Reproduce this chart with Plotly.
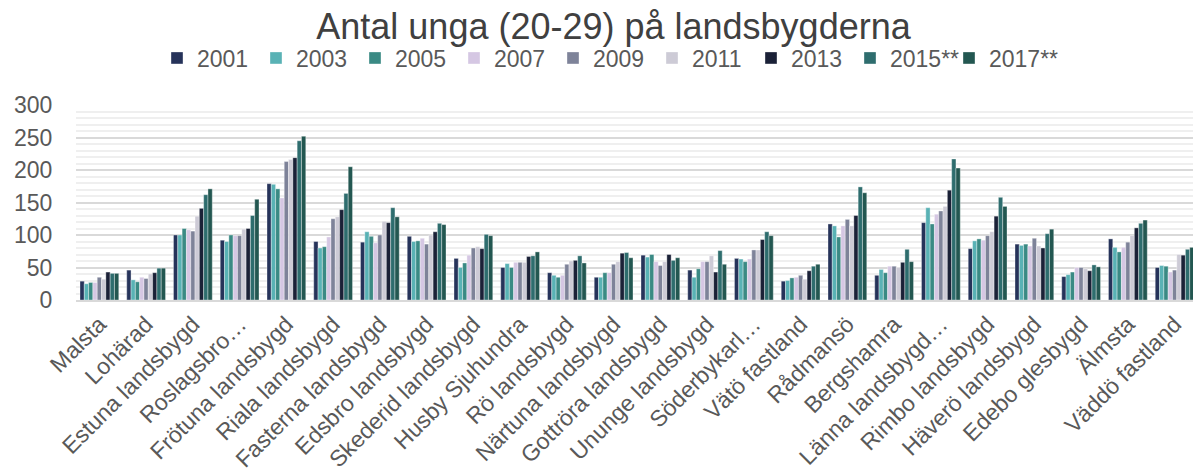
import plotly.graph_objects as go

categories = ["Malsta", "Lohärad", "Estuna landsbygd", "Roslagsbro…", "Frötuna landsbygd",
              "Riala landsbygd", "Fasterna landsbygd", "Edsbro landsbygd", "Skederid landsbygd",
              "Husby Sjuhundra", "Rö landsbygd", "Närtuna landsbygd", "Gottröra landsbygd",
              "Ununge landsbygd", "Söderbykarl…", "Vätö fastland", "Rådmansö", "Bergshamra",
              "Länna landsbygd…", "Rimbo landsbygd", "Häverö landsbygd", "Edebo glesbygd",
              "Älmsta", "Väddö fastland"]

series_names = ["2001", "2003", "2005", "2007", "2009", "2011", "2013", "2015**", "2017**"]

v2001 = [29, 46, 100, 92, 179, 90, 89, 98, 64, 50, 42, 35, 69, 46, 64, 29, 117, 38, 119, 79, 86, 36, 94, 50]
v2003 = [25, 31, 100, 90, 178, 80, 105, 90, 50, 56, 38, 35, 66, 35, 63, 30, 114, 47, 142, 91, 84, 39, 81, 53]
v2005 = [27, 28, 110, 100, 171, 82, 98, 91, 57, 50, 35, 42, 70, 48, 59, 34, 97, 42, 117, 94, 86, 43, 74, 52]
v2007 = [27, 35, 108, 99, 157, 97, 88, 95, 69, 58, 38, 42, 59, 59, 63, 35, 114, 52, 132, 92, 83, 50, 81, 43]
v2009 = [35, 33, 106, 99, 213, 125, 100, 86, 80, 58, 55, 55, 53, 59, 77, 38, 124, 52, 137, 99, 95, 50, 89, 46]
v2011 = [32, 40, 129, 109, 216, 128, 121, 100, 82, 58, 60, 59, 59, 68, 77, 32, 114, 50, 144, 105, 83, 48, 99, 70]
v2013 = [43, 42, 141, 110, 219, 139, 119, 105, 79, 67, 61, 72, 70, 43, 93, 45, 130, 58, 169, 129, 80, 45, 111, 69]
v2015 = [41, 49, 162, 130, 245, 164, 142, 118, 101, 68, 68, 73, 61, 76, 105, 52, 174, 78, 217, 158, 102, 54, 118, 78]
v2017 = [41, 49, 171, 155, 252, 205, 128, 116, 99, 74, 57, 65, 65, 55, 99, 55, 165, 59, 203, 144, 109, 51, 123, 81]

values = [v2001, v2003, v2005, v2007, v2009, v2011, v2013, v2015, v2017]
colors = ["#26335a", "#59b2b5", "#3a8a84", "#d5c7e3", "#7e8399", "#cdcbd6", "#1b2137", "#2e6d6e", "#235751"]

fig = go.Figure()
for name, vals, col in zip(series_names, values, colors):
    fig.add_trace(go.Bar(x=categories, y=vals, name=name,
                         marker=dict(color=col, line=dict(color="rgba(255,255,255,0.6)", width=0.6))))

# empty spacer legend entry so the last fixed-width legend label is not clipped
fig.add_trace(go.Scatter(x=[None], y=[None], mode="markers", name=" ",
                         marker=dict(color="rgba(0,0,0,0)"), hoverinfo="skip"))

W, H = 1193, 468
font_family = "Liberation Sans, Arial, sans-serif"
fig.update_layout(
    width=W, height=H,
    paper_bgcolor="white", plot_bgcolor="white",
    margin=dict(l=68, r=3, t=97, b=176, autoexpand=False),
    barmode="group", bargap=0.17, bargroupgap=0,
    title=dict(text="Antal unga (20-29) på landsbygderna", x=605.5 / W, xanchor="center",
               y=1 - 18 / H, yanchor="middle",
               font=dict(family=font_family, size=36, color="#404040")),
    legend=dict(orientation="h", xref="container", yref="container",
                x=149 / W, xanchor="left", y=1 - 50 / H, yanchor="middle",
                font=dict(family=font_family, size=23, color="#595959"),
                entrywidth=54, entrywidthmode="pixels", itemwidth=30,
                traceorder="normal"),
    font=dict(family=font_family, color="#595959"),
)
fig.update_yaxes(range=[0, 300], dtick=50, showgrid=True, gridcolor="#d9d9d9", gridwidth=1.5,
                 minor=dict(dtick=10, showgrid=True, gridcolor="#efefef", gridwidth=1.5),
                 zeroline=False, showline=False, automargin=False,
                 ticks="outside", ticklen=18, tickcolor="rgba(0,0,0,0)",
                 tickfont=dict(family=font_family, size=23, color="#595959"))
fig.update_xaxes(showline=True, linecolor="#d9d9d9", linewidth=1.5, tickangle=-45, automargin=False,
                 tickfont=dict(family=font_family, size=23, color="#595959"))

fig.write_html("out.html")
